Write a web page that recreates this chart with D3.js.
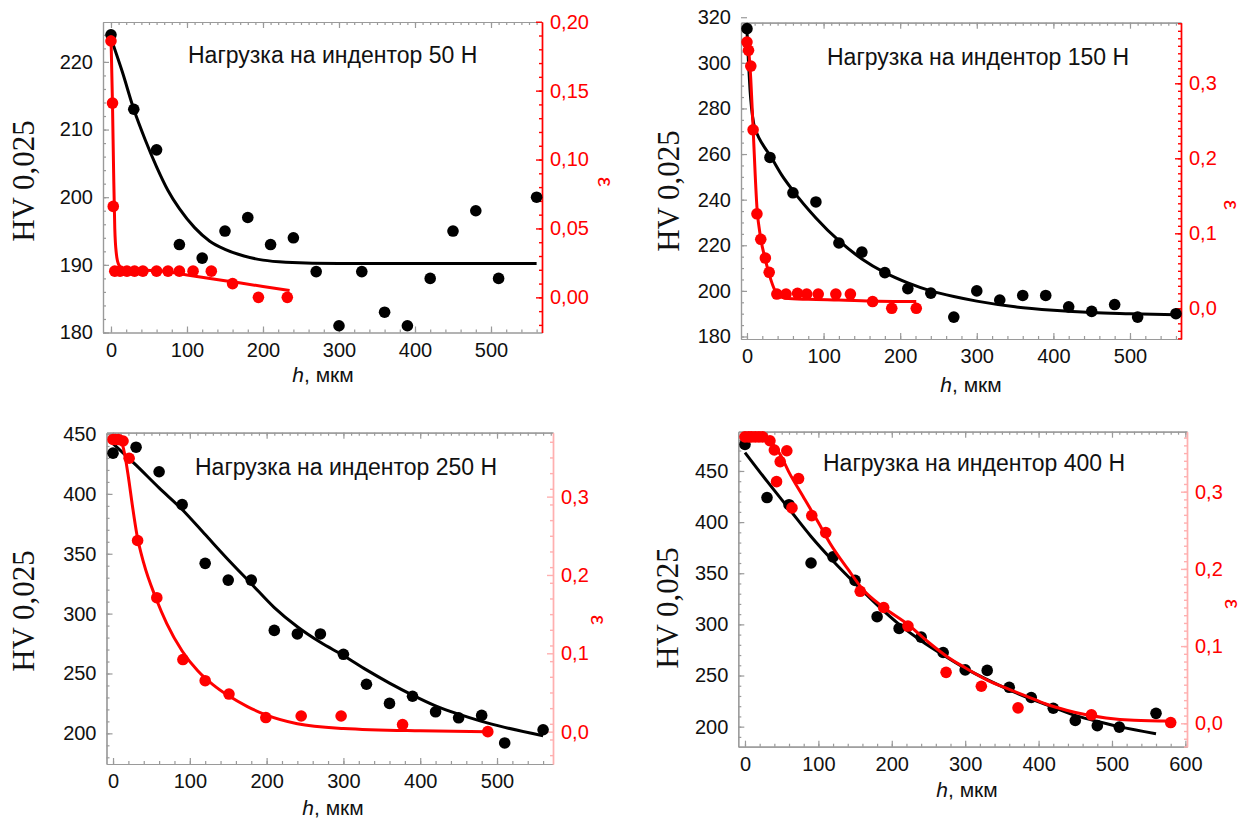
<!DOCTYPE html>
<html>
<head>
<meta charset="utf-8">
<script src="https://cdn.jsdelivr.net/npm/d3@7"></script>
<style>
  body { margin: 0; background: #fff; }
  svg text { font-family: "Liberation Sans", Arial, sans-serif; }
</style>
</head>
<body>
<svg id="chart" width="1247" height="818"></svg>
<script>
// ---- data ----
// panel 1: load 50 N
const p1H   = [0, 30, 60, 90, 120, 150, 180, 210, 240, 270, 300, 330, 360, 390, 420, 450, 480, 510, 560];
const p1HV  = [224, 213, 207, 193, 191, 195, 197, 193, 194, 189, 181, 189, 183, 181, 188, 195, 198, 188, 200];
const p1EpsH = [0, 2, 3, 5, 12, 21, 31, 42, 60, 75, 90, 108, 132, 160, 194, 232];
const p1Eps  = [0.186, 0.141, 0.066, 0.019, 0.019, 0.019, 0.019, 0.019, 0.019, 0.019, 0.019, 0.019, 0.019, 0.010, 0.0, 0.0];
const p1FitHV  = [[0, 223.5], [15, 218.5], [30, 213], [45, 208.5], [60, 204.5], [75, 201], [90, 198.3], [110, 195.5], [130, 193.5], [150, 192.3], [175, 191.3], [200, 190.7], [230, 190.4], [300, 190.2], [560, 190.2]];
const p1FitEps = [[0, 0.19], [2, 0.14], [3.5, 0.09], [5, 0.05], [7, 0.032], [10, 0.024], [15, 0.021], [30, 0.020], [60, 0.0195], [100, 0.0163], [150, 0.0121], [200, 0.0079], [235, 0.005]];

// panel 2: load 150 N
const p2H   = [0, 30, 60, 90, 120, 150, 180, 210, 240, 270, 300, 330, 360, 390, 420, 450, 480, 510, 560];
const p2HV  = [315, 258.5, 243, 239, 221, 217, 208, 201, 199, 188.5, 200, 196, 198, 198, 193, 191, 194, 188.5, 190];
const p2EpsH = [0, 2, 5, 8, 13, 18, 24, 29, 39, 51, 66, 78, 93, 116, 135, 164, 189, 221];
const p2Eps  = [0.355, 0.344, 0.323, 0.238, 0.126, 0.092, 0.067, 0.048, 0.019, 0.019, 0.020, 0.019, 0.019, 0.019, 0.019, 0.009, 0.0, 0.0];
const p2FitHV  = [[0, 314], [2, 300], [4, 288], [6, 280], [9, 273], [13, 269], [20, 264.5], [31, 258.9], [45, 251], [60, 244], [90, 232], [120, 222], [150, 214], [180, 208], [210, 203.5], [240, 200], [270, 197.5], [300, 195.5], [350, 193], [400, 191.5], [450, 190.5], [500, 190], [560, 189.5]];
const p2FitEps = [[0, 0.36], [3, 0.335], [5, 0.305], [8, 0.24], [13, 0.135], [18, 0.093], [24, 0.065], [30, 0.042], [36, 0.025], [42, 0.016], [50, 0.0135], [80, 0.012], [120, 0.011], [170, 0.0095], [221, 0.009]];

// panel 3: load 250 N
const p3H   = [0, 30, 60, 90, 120, 150, 180, 210, 240, 270, 300, 330, 360, 390, 420, 450, 480, 510, 560];
const p3HV  = [434, 439, 418.5, 391, 342, 328, 328, 286, 283, 283, 266, 241, 225, 231, 218, 213, 215, 192, 203];
const p3EpsH = [0, 3, 7, 13, 21, 32, 57, 91, 120, 151, 199, 245, 297, 377, 488];
const p3Eps  = [0.373, 0.373, 0.373, 0.371, 0.349, 0.244, 0.171, 0.092, 0.065, 0.048, 0.018, 0.020, 0.020, 0.009, 0.0];
const p3FitHV  = [[0, 442], [30, 424], [60, 405], [90, 387], [120, 366], [150, 345], [180, 325], [210, 305], [240, 289], [270, 276], [300, 265], [330, 253], [360, 242], [390, 232], [420, 223], [450, 216], [480, 210], [510, 205], [560, 198]];
const p3FitEps = [[3, 0.375], [10, 0.372], [15, 0.355], [20, 0.325], [25, 0.29], [31, 0.252], [40, 0.215], [56, 0.17], [70, 0.138], [90, 0.103], [110, 0.078], [130, 0.06], [150, 0.046], [175, 0.032], [200, 0.021], [240, 0.010], [300, 0.004], [400, 0.001], [487, 0.0]];

// panel 4: load 400 N
const p4H   = [0, 30, 60, 90, 120, 150, 180, 210, 240, 270, 300, 330, 360, 390, 420, 450, 480, 510, 560];
const p4HV  = [476, 424, 417, 360, 366, 343, 307.5, 296, 287.5, 272.5, 255.5, 255, 238.5, 228.5, 218, 206, 201, 199.5, 213];
const p4EpsH = [0, 5, 9, 14, 19, 24, 34, 40, 43, 48, 57, 64, 73, 91, 110, 157, 189, 222, 274, 322, 372, 472, 580];
const p4Eps  = [0.371, 0.371, 0.371, 0.371, 0.371, 0.371, 0.366, 0.354, 0.313, 0.339, 0.353, 0.279, 0.317, 0.269, 0.247, 0.171, 0.150, 0.126, 0.066, 0.048, 0.020, 0.011, 0.001];
const p4FitHV  = [[0, 468], [30, 440], [60, 413], [90, 386], [120, 362], [150, 340], [180, 319], [210, 300], [240, 284], [270, 270], [300, 257], [330, 246], [360, 236], [390, 227], [420, 219], [450, 211], [480, 205], [510, 200], [560, 193]];
const p4FitEps = [[0, 0.375], [15, 0.374], [25, 0.372], [35, 0.365], [48, 0.348], [60, 0.325], [79, 0.294], [100, 0.26], [116, 0.233], [140, 0.2], [161, 0.173], [189, 0.15], [222, 0.128], [250, 0.105], [276, 0.086], [300, 0.072], [330, 0.056], [360, 0.044], [384, 0.035], [410, 0.025], [438, 0.017], [465, 0.011], [492, 0.007], [530, 0.004], [580, 0.003]];

// tick values
const hvTicks1 = [180, 190, 200, 210, 220];
const hvTicks2 = [180, 200, 220, 240, 260, 280, 300, 320];
const hvTicks34 = [200, 250, 300, 350, 400, 450];
const epsTicks1 = [0, 0.05, 0.10, 0.15, 0.20];
const epsTicks234 = [0, 0.1, 0.2, 0.3];
const hTicks = [0, 100, 200, 300, 400, 500];
const hTicks4 = [0, 100, 200, 300, 400, 500, 600];

const svg = d3.select('#chart');
const RED = '#ff0000';

function range(a, b, step) {
  const out = [];
  for (let v = a; v <= b + 1e-9; v += step) out.push(+v.toFixed(4));
  return out;
}

function drawPanel(cfg) {
  const b = cfg.box;
  const x = d3.scaleLinear().domain(cfg.xDomain).range([b.left, b.right]);
  const y = d3.scaleLinear().domain(cfg.hvDomain).range([b.bottom, b.top]);
  const e = d3.scaleLinear().domain(cfg.epsDomain).range([b.bottom, b.top]);
  const g = svg.append('g');

  const inX = v => v >= cfg.xDomain[0] && v <= cfg.xDomain[1];
  const inY = v => v >= cfg.hvDomain[0] && v <= cfg.hvDomain[1];
  const inE = v => v >= cfg.epsDomain[0] && v <= cfg.epsDomain[1];

  // bottom axis
  g.append('g').attr('transform', `translate(0,${b.bottom})`)
    .call(d3.axisBottom(x).tickValues(range(0, cfg.xDomain[1], cfg.xMinor).filter(inX)).tickSize(-3).tickSizeOuter(0).tickFormat(''));
  g.append('g').attr('class', 'lab').attr('transform', `translate(0,${b.bottom})`)
    .call(d3.axisBottom(x).tickValues(cfg.xTicks).tickSize(-6).tickSizeOuter(0).tickPadding(10).tickFormat(d3.format('d')));
  // top axis
  g.append('g').attr('transform', `translate(0,${b.top})`)
    .call(d3.axisTop(x).tickValues(range(0, cfg.xDomain[1], 10).filter(inX)).tickSize(-3).tickSizeOuter(0).tickFormat(''));
  g.append('g').attr('transform', `translate(0,${b.top})`)
    .call(d3.axisTop(x).tickValues(cfg.xTicks.filter(inX)).tickSize(-6).tickSizeOuter(0).tickFormat(''));
  // left axis
  g.append('g').attr('transform', `translate(${b.left},0)`)
    .call(d3.axisLeft(y).tickValues(range(cfg.hvDomain[0] - (cfg.hvDomain[0] % cfg.hvMinor), cfg.hvDomain[1], cfg.hvMinor).filter(inY)).tickSize(-3).tickSizeOuter(0).tickFormat(''));
  g.append('g').attr('class', 'lab').attr('transform', `translate(${b.left},0)`)
    .call(d3.axisLeft(y).tickValues(cfg.hvTicks).tickSize(-6).tickSizeOuter(0).tickPadding(10).tickFormat(d3.format('d')));
  g.selectAll('.domain, .tick line').attr('stroke', '#9a9a9a').attr('stroke-width', 1.2);

  // right axis (eps)
  const rg = g.append('g').attr('transform', `translate(${b.right},0)`);
  rg.append('g').call(d3.axisRight(e).tickValues(range(-0.05, cfg.epsDomain[1], cfg.epsMinor).filter(inE)).tickSize(-3).tickSizeOuter(0).tickFormat(''));
  rg.append('g').attr('class', 'lab eps')
    .call(d3.axisRight(e).tickValues(cfg.epsTicks).tickSize(-6).tickSizeOuter(0).tickPadding(8)
      .tickFormat(d => d3.format(cfg.epsFmt)(d).replace('.', ',')));
  rg.selectAll('.domain, .tick line').attr('stroke', cfg.epsAxisColor).attr('stroke-width', 1.4);

  g.selectAll('.lab text').attr('font-size', 20).attr('fill', '#111');
  g.selectAll('.eps text').attr('fill', RED);

  // curves and points
  const lineHV = d3.line().x(d => x(d[0])).y(d => y(d[1])).curve(d3.curveMonotoneX);
  const lineE = d3.line().x(d => x(d[0])).y(d => e(d[1])).curve(d3.curveMonotoneX);

  g.append('path').datum(cfg.fitHV).attr('d', lineHV)
    .attr('fill', 'none').attr('stroke', '#000').attr('stroke-width', 3);
  g.append('g').selectAll('circle').data(cfg.h.map((h, i) => [h, cfg.hv[i]])).join('circle')
    .attr('cx', d => x(d[0])).attr('cy', d => y(d[1])).attr('r', 5.8).attr('fill', '#000');

  g.append('path').datum(cfg.fitEps).attr('d', lineE)
    .attr('fill', 'none').attr('stroke', RED).attr('stroke-width', 3);
  g.append('g').selectAll('circle').data(cfg.epsH.map((h, i) => [h, cfg.eps[i]])).join('circle')
    .attr('cx', d => x(d[0])).attr('cy', d => e(d[1])).attr('r', 5.8).attr('fill', RED);

  // texts
  g.append('text').attr('x', cfg.title[0]).attr('y', cfg.title[1]).attr('dy', '0.35em')
    .attr('font-size', 23).attr('fill', '#111').text(cfg.titleText);

  g.append('text').attr('transform', `translate(${cfg.hvLab[0]},${cfg.hvLab[1]}) rotate(-90)`)
    .attr('text-anchor', 'middle').attr('dy', '0.35em')
    .style('font-family', '"Liberation Serif", "Times New Roman", serif')
    .attr('font-size', 31).attr('fill', '#111').text('HV 0,025');

  g.append('text').attr('transform', `translate(${cfg.epsLab[0]},${cfg.epsLab[1]}) rotate(90)`)
    .attr('text-anchor', 'middle').attr('dy', '0.35em')
    .attr('font-size', 22).attr('fill', RED).text('ε');

  const xl = g.append('text').attr('x', cfg.hLab[0]).attr('y', cfg.hLab[1]).attr('dy', '0.35em')
    .attr('text-anchor', 'middle').attr('font-size', 21).attr('fill', '#111');
  xl.append('tspan').attr('font-style', 'italic').text('h');
  xl.append('tspan').text(', мкм');
}

drawPanel({
  box: {left: 103, right: 542, top: 22, bottom: 332.5},
  xDomain: [-10.5, 567.1], hvDomain: [180, 225.9], epsDomain: [-0.0255, 0.1998],
  xTicks: hTicks, xMinor: 20, hvTicks: hvTicks1, hvMinor: 2,
  epsTicks: epsTicks1, epsMinor: 0.01, epsFmt: '.2f', epsAxisColor: RED,
  h: p1H, hv: p1HV, epsH: p1EpsH, eps: p1Eps, fitHV: p1FitHV, fitEps: p1FitEps,
  titleText: 'Нагрузка на индентор 50 Н', title: [188, 55],
  hvLab: [23, 181], epsLab: [606, 182], hLab: [323, 375]
});

drawPanel({
  box: {left: 741, right: 1181, top: 22.7, bottom: 339},
  xDomain: [-7.8, 566.6], hvDomain: [178.9, 317.6], epsDomain: [-0.0409, 0.3808],
  xTicks: hTicks, xMinor: 20, hvTicks: hvTicks2, hvMinor: 5,
  epsTicks: epsTicks234, epsMinor: 0.01, epsFmt: '.1f', epsAxisColor: RED,
  h: p2H, hv: p2HV, epsH: p2EpsH, eps: p2Eps, fitHV: p2FitHV, fitEps: p2FitEps,
  titleText: 'Нагрузка на индентор 150 Н', title: [827, 57],
  hvLab: [668.5, 191], epsLab: [1232, 205], hLab: [971, 385]
});

drawPanel({
  box: {left: 106.5, right: 553, top: 432.7, bottom: 764},
  xDomain: [-8.5, 572.9], hvDomain: [174.4, 451.1], epsDomain: [-0.0413, 0.3816],
  xTicks: hTicks, xMinor: 20, hvTicks: hvTicks34, hvMinor: 10,
  epsTicks: epsTicks234, epsMinor: 0.02, epsFmt: '.1f', epsAxisColor: '#ffb0b0',
  h: p3H, hv: p3HV, epsH: p3EpsH, eps: p3Eps, fitHV: p3FitHV, fitEps: p3FitEps,
  titleText: 'Нагрузка на индентор 250 Н', title: [195, 467],
  hvLab: [23, 611], epsLab: [599, 620], hLab: [333, 808]
});

drawPanel({
  box: {left: 738.3, right: 1187, top: 431.7, bottom: 746.7},
  xDomain: [-9.1, 602.2], hvDomain: [180.4, 488.4], epsDomain: [-0.0303, 0.3777],
  xTicks: hTicks4, xMinor: 20, hvTicks: hvTicks34, hvMinor: 10,
  epsTicks: epsTicks234, epsMinor: 0.01, epsFmt: '.1f', epsAxisColor: '#ffb0b0',
  h: p4H, hv: p4HV, epsH: p4EpsH, eps: p4Eps, fitHV: p4FitHV, fitEps: p4FitEps,
  titleText: 'Нагрузка на индентор 400 Н', title: [823, 463],
  hvLab: [667.5, 608], epsLab: [1233, 604], hLab: [967, 790]
});
</script>
</body>
</html>
